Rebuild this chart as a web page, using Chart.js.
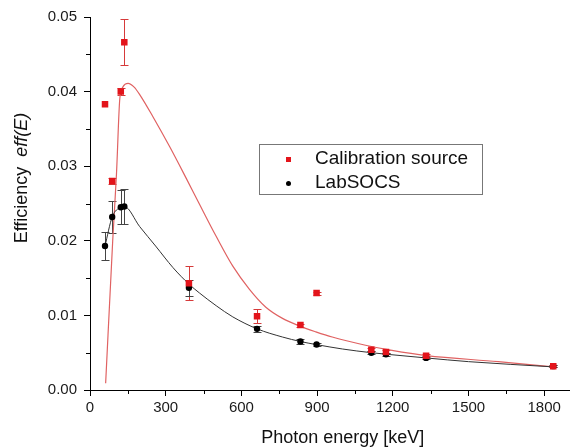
<!DOCTYPE html>
<html>
<head>
<meta charset="utf-8">
<script src="https://cdn.jsdelivr.net/npm/chart.js@4"></script>
<style>
  html, body { margin: 0; padding: 0; background: #fff; }
</style>
</head>
<body>
<canvas id="effChart" width="574" height="447"></canvas>
<script>
// measured points (keV)
const energies = [59.5, 88, 122, 136, 392, 662, 834, 898, 1115, 1173, 1332, 1836];
const calibEff = [0.0383, 0.0280, 0.0400, 0.0466, 0.0143, 0.0099, 0.0087, 0.0130, 0.0054, 0.0051, 0.0046, 0.0032];
const calibErr = [0, 0.0004, 0.0005, 0.0031, 0.0023, 0.0009, 0.0002, 0.0002, 0.0002, 0.0002, 0.0002, 0.0001];
const labsocsEff = [0.0193, 0.0232, 0.0245, 0.0246, 0.0137, 0.0082, 0.0065, 0.0061, 0.0050, 0.0048, 0.0043, 0.0032];
const labsocsErr = [0.0019, 0.0022, 0.0023, 0.0024, 0.0011, 0.0004, 0.0003, 0.0002, 0.0002, 0.0002, 0.0002, 0.0001];

// fitted curves
const calibFitE = [62, 90, 105, 118, 130, 151, 175, 197, 250, 316, 381, 434, 500, 566, 632, 697, 763, 829, 895, 960, 1092, 1197, 1334, 1618, 1835];
const calibFitEff = [0.0009, 0.0200, 0.0290, 0.0390, 0.0406, 0.0411, 0.0406, 0.0396, 0.0366, 0.0326, 0.0284, 0.0249, 0.0206, 0.0166, 0.0135, 0.0111, 0.0096, 0.0086, 0.0078, 0.0071, 0.0060, 0.0053, 0.0046, 0.0038, 0.0031];
const labsocsFitE = [59.5, 88, 122, 136, 197, 260, 329, 392, 434, 500, 566, 662, 763, 834, 895, 1000, 1115, 1173, 1332, 1500, 1836];
const labsocsFitEff = [0.0193, 0.0232, 0.0245, 0.0246, 0.0219, 0.0193, 0.0164, 0.0142, 0.0130, 0.0113, 0.0098, 0.0082, 0.0071, 0.0065, 0.0061, 0.0055, 0.0050, 0.0048, 0.0043, 0.0038, 0.0031];

const xTicks = [0, 300, 600, 900, 1200, 1500, 1800];
const yTicks = [0, 0.01, 0.02, 0.03, 0.04, 0.05];

const RED = '#e3141b';
const FONT = 'Liberation Sans, Arial, sans-serif';

const pts = (xs, ys) => xs.map((x, i) => ({ x, y: ys[i] }));

const errorBars = {
  id: 'errorBars',
  beforeDatasetsDraw(chart) {
    const { ctx, scales: { x, y } } = chart;
    ctx.save();
    ctx.lineWidth = 1;
    [[calibEff, calibErr, '#d63a3a'], [labsocsEff, labsocsErr, '#444']].forEach(([vals, errs, col]) => {
      ctx.strokeStyle = col;
      energies.forEach((e, i) => {
        if (!errs[i]) return;
        const px = Math.round(x.getPixelForValue(e)) + 0.5;
        const top = Math.round(y.getPixelForValue(vals[i] + errs[i])) + 0.5;
        const bot = Math.round(y.getPixelForValue(vals[i] - errs[i])) + 0.5;
        ctx.beginPath();
        ctx.moveTo(px, top); ctx.lineTo(px, bot);
        ctx.moveTo(px - 4, top); ctx.lineTo(px + 4, top);
        ctx.moveTo(px - 4, bot); ctx.lineTo(px + 4, bot);
        ctx.stroke();
      });
    });
    ctx.restore();
  }
};

const extras = {
  id: 'extras',
  afterDraw(chart) {
    const { ctx, chartArea, scales: { x, y } } = chart;
    ctx.save();
    // minor ticks
    ctx.strokeStyle = '#000';
    ctx.lineWidth = 1;
    ctx.beginPath();
    xTicks.forEach(v => {
      const m = v + 150;
      if (m > x.max) return;
      const px = Math.round(x.getPixelForValue(m)) + 0.5;
      ctx.moveTo(px, chartArea.bottom); ctx.lineTo(px, chartArea.bottom + 4);
    });
    yTicks.forEach(v => {
      const m = v + 0.005;
      if (m > y.max) return;
      const py = Math.round(y.getPixelForValue(m)) + 0.5;
      ctx.moveTo(chartArea.left, py); ctx.lineTo(chartArea.left - 4, py);
    });
    ctx.stroke();

    // axis titles
    ctx.fillStyle = '#111';
    ctx.textBaseline = 'middle';
    ctx.font = '18px ' + FONT;
    ctx.textAlign = 'center';
    ctx.fillText('Photon energy [keV]', (chartArea.left + chartArea.right) / 2 + 13, 438);

    ctx.translate(22, 178);
    ctx.rotate(-Math.PI / 2);
    const a = 'Efficiency  ', b = 'eff(E)';
    ctx.font = '18px ' + FONT;
    const wa = ctx.measureText(a).width;
    ctx.font = 'italic 18px ' + FONT;
    const wb = ctx.measureText(b).width;
    ctx.textAlign = 'left';
    ctx.font = '18px ' + FONT;
    ctx.fillText(a, -(wa + wb) / 2, 0);
    ctx.font = 'italic 18px ' + FONT;
    ctx.fillText(b, -(wa + wb) / 2 + wa, 0);
    ctx.setTransform(1, 0, 0, 1, 0, 0);

    // legend
    ctx.strokeStyle = '#777';
    ctx.strokeRect(259.5, 144.5, 223, 50);
    ctx.fillStyle = RED;
    ctx.fillRect(286, 157, 5, 5);
    ctx.fillStyle = '#000';
    ctx.beginPath();
    ctx.arc(288.5, 183.5, 2.5, 0, Math.PI * 2);
    ctx.fill();
    ctx.fillStyle = '#111';
    ctx.font = '19px ' + FONT;
    ctx.textAlign = 'left';
    ctx.fillText('Calibration source', 315, 159);
    ctx.fillText('LabSOCS', 315, 183);
    ctx.restore();
  }
};

new Chart(document.getElementById('effChart'), {
  type: 'scatter',
  data: {
    datasets: [
      { label: 'Calibration source', data: pts(energies, calibEff), backgroundColor: RED, borderColor: RED,
        pointStyle: 'rect', pointRadius: 4.6, pointBorderWidth: 0, order: 1 },
      { label: 'LabSOCS', data: pts(energies, labsocsEff), backgroundColor: '#000', borderColor: '#000',
        pointStyle: 'circle', pointRadius: 3.2, pointBorderWidth: 0, order: 2 },
      { label: 'calib fit', data: pts(calibFitE, calibFitEff), showLine: true, borderColor: '#e06262',
        borderWidth: 1.2, pointRadius: 0, cubicInterpolationMode: 'monotone', order: 4 },
      { label: 'labsocs fit', data: pts(labsocsFitE, labsocsFitEff), showLine: true, borderColor: '#333',
        borderWidth: 1, pointRadius: 0, cubicInterpolationMode: 'monotone', order: 3 }
    ]
  },
  options: {
    responsive: false,
    animation: false,
    layout: { padding: { top: 17, right: 3, left: 0, bottom: 0 } },
    plugins: { legend: { display: false }, tooltip: { enabled: false } },
    scales: {
      x: {
        type: 'linear', min: 0, max: 1900,
        afterFit: s => { s.height = 57; },
        border: { color: '#000', width: 1 },
        grid: { drawOnChartArea: false, color: '#000', tickLength: 6 },
        ticks: { stepSize: 300, includeBounds: false, color: '#1a1a1a', font: { family: FONT, size: 15 }, padding: 3, maxRotation: 0,
          callback: v => String(v) }
      },
      y: {
        min: 0, max: 0.05,
        afterFit: s => { s.width = 90; },
        border: { color: '#000', width: 1 },
        grid: { drawOnChartArea: false, color: '#000', tickLength: 6 },
        ticks: { stepSize: 0.01, includeBounds: false, color: '#1a1a1a', font: { family: FONT, size: 15 }, padding: 7,
          callback: v => v.toFixed(2) }
      }
    }
  },
  plugins: [errorBars, extras]
});
</script>
</body>
</html>
